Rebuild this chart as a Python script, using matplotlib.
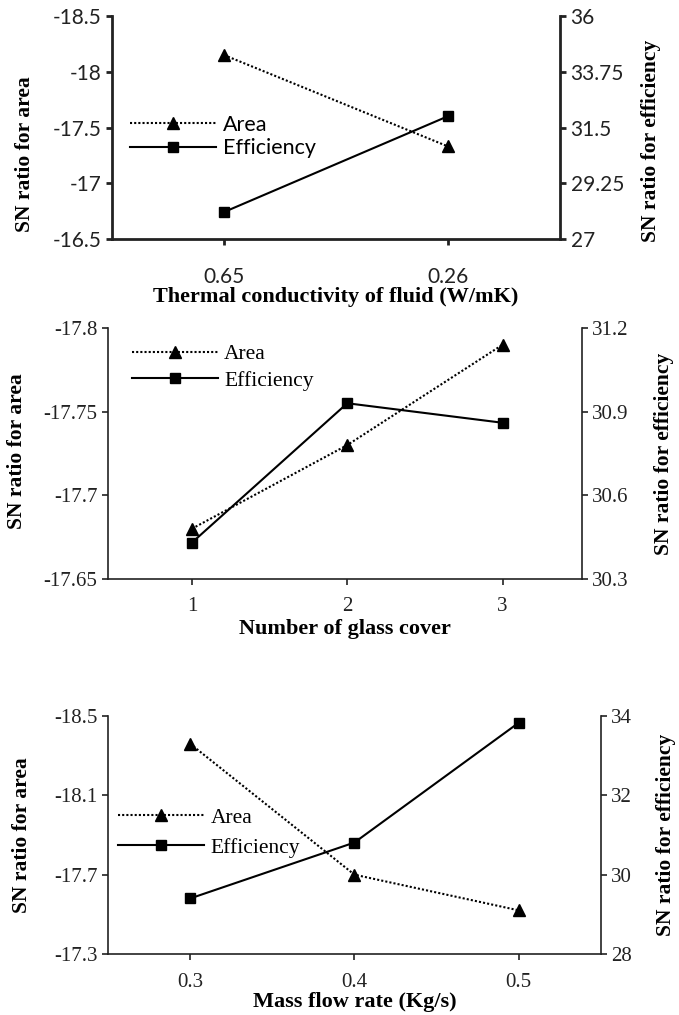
import matplotlib
matplotlib.use("Agg")
import matplotlib.pyplot as plt

# panel 1: thermal conductivity of fluid
cond_labels = ["0.65", "0.26"]
cond_area = [-18.15, -17.33]
cond_eff = [28.09, 31.96]

# panel 2: number of glass covers
glass_labels = ["1", "2", "3"]
glass_area = [-17.68, -17.73, -17.79]
glass_eff = [30.43, 30.93, 30.86]

# panel 3: mass flow rate
flow_labels = ["0.3", "0.4", "0.5"]
flow_area = [-18.36, -17.70, -17.52]
flow_eff = [29.40, 30.81, 33.83]

fig = plt.figure(figsize=(6.79, 10.15), dpi=100)

SANS = ["Lato", "DejaVu Sans"]
SERIF = ["Liberation Serif", "DejaVu Serif"]


def panel(rect, labels, area, eff, xlim, left_lim, left_ticks, left_fmt,
          right_lim, right_ticks, right_fmt, xlabel, tick_font, lw_spine,
          tick_pad, leg_anchor, leg_space, ylab_left, ylab_right, xlab_y):
    ax = fig.add_axes(rect)
    ax2 = ax.twinx()
    x = list(range(len(labels)))

    l1, = ax.plot(x, area, linestyle=(0, (1, 1)), color="black", lw=1.5,
                  marker="^", markersize=8.5, label="Area")
    l2, = ax2.plot(x, eff, linestyle="-", color="black", lw=1.5,
                   marker="s", markersize=7, label="Efficiency")

    ax.set_xlim(*xlim)
    ax.set_xticks(x)
    ax.set_xticklabels(labels, family=tick_font, fontsize=15)
    # left axis runs downward: most negative value at the top
    ax.set_ylim(left_lim[1], left_lim[0])
    ax.set_yticks(left_ticks)
    ax.set_yticklabels([left_fmt(v) for v in left_ticks], family=tick_font, fontsize=15)
    ax2.set_ylim(*right_lim)
    ax2.set_yticks(right_ticks)
    ax2.set_yticklabels([right_fmt(v) for v in right_ticks], family=tick_font, fontsize=15)

    for a in (ax, ax2):
        a.spines["top"].set_visible(False)
        for s in ("left", "right", "bottom"):
            a.spines[s].set_linewidth(lw_spine)
            a.spines[s].set_color("#222222")
        a.tick_params(direction="out", length=4, width=lw_spine, colors="#222222")
    ax.spines["right"].set_visible(False)
    ax2.spines["left"].set_visible(False)
    ax2.spines["bottom"].set_visible(False)
    ax.tick_params(axis="x", pad=tick_pad)

    ax.set_ylabel("SN ratio for area", family=SERIF, fontweight="bold", fontsize=15.5)
    ax.yaxis.set_label_coords(*ylab_left)
    ax2.set_ylabel("SN ratio for efficiency", family=SERIF, fontweight="bold", fontsize=15.5)
    ax2.yaxis.set_label_coords(*ylab_right)
    ax.set_xlabel(xlabel, family=SERIF, fontweight="bold", fontsize=16)
    ax.xaxis.set_label_coords(0.5, xlab_y)

    ax2.legend([l1, l2], ["Area", "Efficiency"], loc="center left",
               bbox_to_anchor=leg_anchor, frameon=False, numpoints=1,
               handlelength=4.0, handletextpad=0.3, labelspacing=leg_space,
               borderaxespad=0, borderpad=0,
               prop={"family": tick_font, "size": 15.5})
    return ax, ax2


panel([0.165, 0.7645, 0.660, 0.2197], cond_labels, cond_area, cond_eff,
      (-0.5, 1.5), (-18.5, -16.5), [-18.5, -18, -17.5, -17, -16.5],
      lambda v: f"{v:g}", (27, 36), [27, 29.25, 31.5, 33.75, 36],
      lambda v: f"{v:g}", "Thermal conductivity of fluid (W/mK)",
      SANS, 2.0, 16, (0.04, 0.46), 0.15, (-0.172, 0.38), (1.18, 0.44), -0.215)

panel([0.159, 0.4296, 0.698, 0.2473], glass_labels, glass_area, glass_eff,
      (-0.54, 2.51), (-17.8, -17.65), [-17.8, -17.75, -17.7, -17.65],
      lambda v: f"{v:g}", (30.3, 31.2), [30.3, 30.6, 30.9, 31.2],
      lambda v: f"{v:.1f}", "Number of glass cover",
      SERIF, 1.2, 9, (0.05, 0.843), 0.3, (-0.17, 0.51), (1.152, 0.50), -0.16)

panel([0.159, 0.0601, 0.726, 0.2345], flow_labels, flow_area, flow_eff,
      (-0.5, 2.5), (-18.5, -17.3), [-18.5, -18.1, -17.7, -17.3],
      lambda v: f"{v:g}", (28, 34), [28, 30, 32, 34],
      lambda v: f"{v:g}", "Mass flow rate (Kg/s)",
      SERIF, 1.2, 10, (0.02, 0.51), 0.45, (-0.154, 0.50), (1.112, 0.50), -0.16)

fig.savefig("out.png", dpi=100)
